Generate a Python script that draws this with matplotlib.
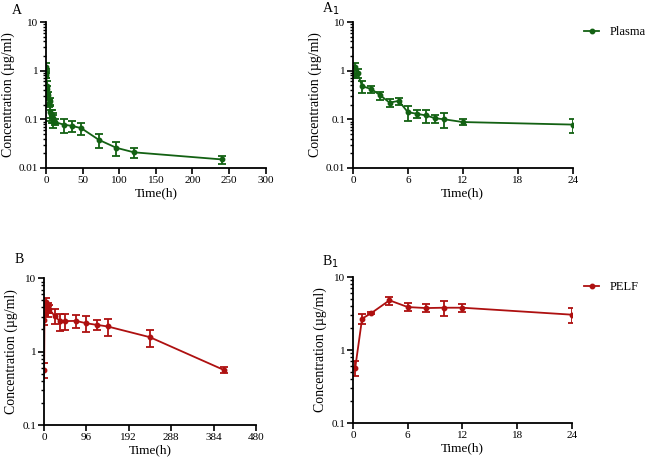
import matplotlib
matplotlib.use('Agg')
import matplotlib.pyplot as plt
from matplotlib.lines import Line2D
from matplotlib.ticker import LogLocator, NullFormatter, FixedLocator

plt.rcParams['font.family'] = ['Liberation Serif', 'DejaVu Serif']

# plasma concentrations (ug/ml), mean and SD
plasma_t = [0.083, 0.25, 0.5, 1, 2, 3, 4, 5, 6, 7, 8, 9, 10, 12, 24, 36, 48, 72, 96, 120, 240]
plasma_c = [0.8, 1.2, 0.9, 0.48, 0.42, 0.31, 0.22, 0.24, 0.14, 0.13, 0.12, 0.105, 0.1, 0.088,
            0.078, 0.073, 0.066, 0.038, 0.026, 0.021, 0.015]
plasma_sd = [0.1, 0.22, 0.2, 0.14, 0.07, 0.06, 0.04, 0.04, 0.048, 0.025, 0.035, 0.02, 0.035, 0.013,
             0.025, 0.018, 0.018, 0.012, 0.008, 0.005, 0.003]

# PELF concentrations (ug/ml), mean and SD
pelf_t = [0.25, 1, 2, 4, 6, 8, 10, 12, 24, 36, 48, 72, 96, 120, 144, 240, 408]
pelf_c = [0.57, 2.69, 3.2, 4.8, 3.88, 3.76, 3.8, 3.8, 3.05, 2.6, 2.6, 2.62, 2.43, 2.31, 2.2, 1.57, 0.56]
pelf_sd = [0.13, 0.4, 0.1, 0.6, 0.5, 0.45, 0.85, 0.45, 0.7, 0.7, 0.65, 0.5, 0.6, 0.35, 0.55, 0.4, 0.05]

green = '#136113'
red = '#ae1010'
ylabel = 'Concentration (\u00b5g/ml)'


def draw(ax, t, c, sd, color, xlim, xticks, ylim):
    ax.errorbar(t, c, yerr=sd, color=color, marker='o', ms=3.2, lw=1.3,
                elinewidth=1.3, capsize=3, capthick=1.3)
    ax.set_yscale('log')
    ax.set_xlim(xlim)
    ax.set_ylim(ylim)
    ax.xaxis.set_major_locator(FixedLocator(xticks))
    ax.yaxis.set_major_locator(LogLocator(base=10, numticks=10))
    ax.yaxis.set_minor_locator(LogLocator(base=10, subs=range(2, 10), numticks=10))
    ax.yaxis.set_minor_formatter(NullFormatter())
    ax.yaxis.set_major_formatter(plt.FuncFormatter(lambda v, p: ('%g' % v)))
    ax.spines['top'].set_visible(False)
    ax.spines['right'].set_visible(False)
    for s in ['left', 'bottom']:
        ax.spines[s].set_linewidth(1.3)
    ax.tick_params(which='major', length=4, width=1.2, labelsize=8, pad=1.5)
    ax.tick_params(which='minor', length=2.5, width=1.0)
    ax.set_xlabel('Time(h)', fontsize=9.5, labelpad=2)
    ax.set_ylabel(ylabel, fontsize=10, labelpad=3)


fig = plt.figure(figsize=(6.5, 4.59), dpi=100)

axA = fig.add_axes([0.0708, 0.634, 0.338, 0.318])
draw(axA, plasma_t, plasma_c, plasma_sd, green, (0, 300), [0, 50, 100, 150, 200, 250, 300], (0.01, 10))

axA1 = fig.add_axes([0.543, 0.634, 0.338, 0.318])
pi = [i for i, t in enumerate(plasma_t) if t <= 24]
draw(axA1, [plasma_t[i] for i in pi], [plasma_c[i] for i in pi], [plasma_sd[i] for i in pi],
     green, (0, 24), [0, 6, 12, 18, 24], (0.01, 10))

axB = fig.add_axes([0.0677, 0.074, 0.326, 0.32])
draw(axB, pelf_t, pelf_c, pelf_sd, red, (0, 480), [0, 96, 192, 288, 384, 480], (0.1, 10))

axB1 = fig.add_axes([0.543, 0.0784, 0.337, 0.318])
qi = [i for i, t in enumerate(pelf_t) if t <= 24]
draw(axB1, [pelf_t[i] for i in qi], [pelf_c[i] for i in qi], [pelf_sd[i] for i in qi],
     red, (0, 24), [0, 6, 12, 18, 24], (0.1, 10))

for color, name, y in [(green, 'Plasma', 0.930), (red, 'PELF', 0.375)]:
    h = Line2D([], [], color=color, marker='o', ms=3.2, lw=1.3)
    fig.legend([h], [name], loc='center left', bbox_to_anchor=(0.899, y), frameon=False,
               fontsize=9, handlelength=1.2, handletextpad=0.8, borderpad=0, borderaxespad=0)

fig.text(0.018, 0.992, 'A', fontsize=10, va='top')
fig.text(0.495, 0.998, 'A$_1$', fontsize=10, va='top')
fig.text(0.022, 0.448, 'B', fontsize=10, va='top')
fig.text(0.495, 0.448, 'B$_1$', fontsize=10, va='top')

plt.savefig('out.png', dpi=100)
